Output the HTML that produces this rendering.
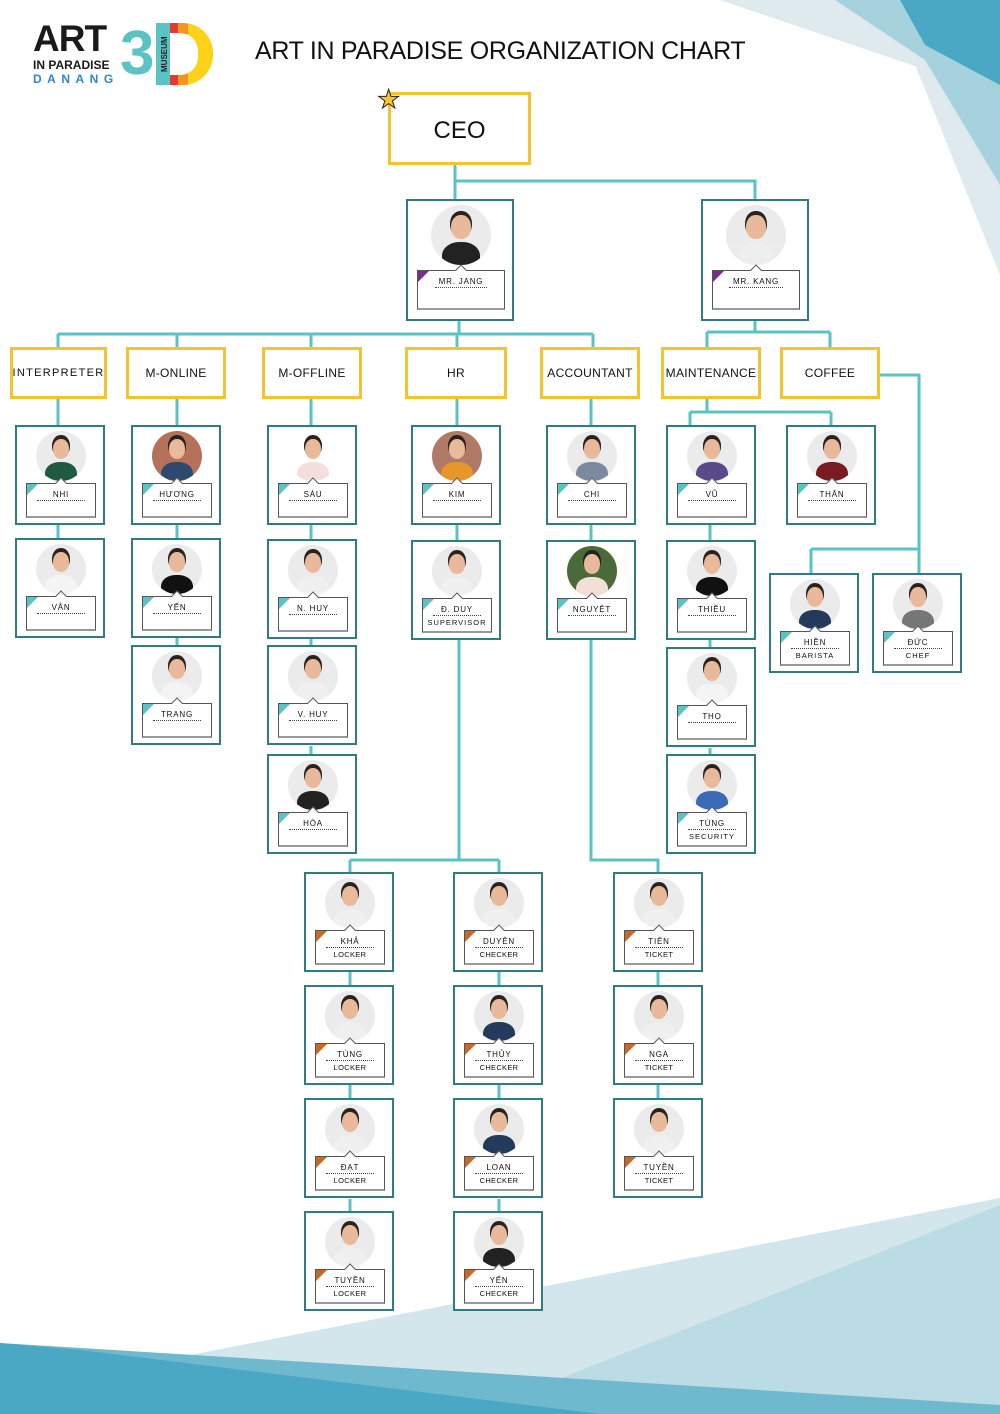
<!DOCTYPE html>
<html><head><meta charset="utf-8">
<style>
*{margin:0;padding:0;box-sizing:border-box}
body{width:1000px;height:1414px;position:relative;overflow:hidden;background:#fff;font-family:"Liberation Sans","DejaVu Sans",sans-serif}
svg.bg{position:absolute;left:0;top:0}
.c{position:absolute;width:90px;height:100px;border:2px solid #2f7d80;background:#fff}
.c.big{width:108px;height:122px}
.p{position:absolute;left:19px;top:4px;width:50px;height:50px;border-radius:50%;background:#ebebeb;overflow:hidden}
.big .p{left:23px;top:4px;width:60px;height:60px}
.p::before{content:"";position:absolute;left:18%;top:62%;width:64%;height:50%;border-radius:45% 45% 0 0;background:var(--s,#233a5a)}
.p::after{content:"";position:absolute;left:34%;top:16%;width:32%;height:40%;border-radius:48%;background:#e8b99a;box-shadow:0 -3px 0 1px #2a2220}
.n{position:absolute;left:9px;top:56px;width:70px;height:35px;border:1px solid #555;border-bottom:2px solid #999;background:#fff;text-align:center}
.big .n{left:9px;top:69px;width:88px;height:40px}
.n::before{content:"";position:absolute;left:0;top:0;border-top:11px solid var(--k,#5bc3c3);border-right:11px solid transparent}
.n::after{content:"";position:absolute;left:50%;top:-5px;margin-left:-4px;width:7px;height:7px;background:#fff;border-left:1px solid #555;border-top:1px solid #555;transform:rotate(45deg)}
.n b{display:inline-block;font-weight:normal;font-size:8px;letter-spacing:.8px;color:#111;margin-top:5px;padding:0 4px 1px;border-bottom:1px dotted #444;min-width:48px;position:relative;z-index:1}
.n s{display:block;text-decoration:none;font-size:7.5px;color:#111;margin-top:1px;letter-spacing:.3px}
.o .n{--k:#c8682a}
.d{position:absolute;top:347px;height:52px;border:3px solid #f5c330;background:#fff;font-size:12px;color:#111;display:flex;align-items:center;justify-content:center;letter-spacing:.3px}
</style></head><body>
<svg class="bg" width="1000" height="1414">
<polygon points="720,0 1000,0 1000,95" fill="#dfeaee"/>
<polygon points="905,40 1000,0 1000,275" fill="#dfeaee"/>
<polygon points="835,0 1000,0 1000,185 925,60" fill="#a6d2de"/>
<polygon points="900,0 1000,0 1000,85 925,45" fill="#4aa8c4"/>
<polygon points="1000,1198 190,1355 0,1414 1000,1414" fill="#d3e6ec"/>
<polygon points="1000,1205 470,1414 1000,1414" fill="#bcdce5"/>
<polygon points="0,1343 1000,1405 1000,1414 0,1414" fill="#6fb9cf"/>
<polygon points="0,1343 80,1350 600,1414 0,1414" fill="#4aa8c4"/>
<g stroke="#5bc3c3" stroke-width="3" fill="none">
<path d="M455,165V199M455,181H755V199"/>
<path d="M459,321V334M58,334H593M58,334V347M177,334V347M311,334V347M457,334V347M593,334V347"/>
<path d="M755,321V332M707,332H830M707,332V347M830,332V347"/>
<path d="M58,399V425M58,525V538M177,399V425M177,525V538M177,638V645M311,399V425M311,525V539M311,639V645M311,746V754M457,399V425M457,525V540M591,399V425M591,525V540"/>
<path d="M707,399V412M690,412H831M690,412V425M831,412V425M710,525V540M710,640V647M710,748V754"/>
<path d="M880,375H919V573M811,549H919M811,549V573"/>
<path d="M459,640V860M350,860H499M350,860V872M499,860V872M350,972V985M350,1085V1098M350,1199V1211M499,972V985M499,1085V1098M499,1199V1211"/>
<path d="M591,640V860H658V872M658,972V985M658,1085V1098"/>
</g>
</svg>

<div style="position:absolute;left:33px;top:20px;font-weight:bold;font-size:37px;letter-spacing:-1px;color:#1a1a1a;line-height:37px">ART</div>
<div style="position:absolute;left:33px;top:58px;font-weight:bold;font-size:12px;color:#1a1a1a">IN PARADISE</div>
<div style="position:absolute;left:33px;top:72px;font-weight:bold;font-size:12px;letter-spacing:5.5px;color:#2f86c8">DANANG</div>
<div style="position:absolute;left:120px;top:22px;font-weight:bold;font-size:62px;line-height:64px;color:#5bc3c3;letter-spacing:-4px">3</div>
<div style="position:absolute;left:156px;top:23px;width:57px;height:62px;border-radius:0 30px 30px 0;background:linear-gradient(90deg,#5bc3c3 0 14px,#e63a2e 14px 22px,#f39324 22px 32px,#ffd21a 32px)"></div>
<div style="position:absolute;left:170px;top:33px;width:28px;height:42px;border-radius:0 18px 18px 0;background:#fff"></div>
<div style="position:absolute;left:160px;top:72px;transform:rotate(-90deg);transform-origin:0 0;font-size:8px;font-weight:bold;color:#222">MUSEUM</div>
<div style="position:absolute;left:255px;top:37px;font-size:25px;color:#111;letter-spacing:-.3px">ART IN PARADISE ORGANIZATION CHART</div>

<div style="position:absolute;left:388px;top:92px;width:143px;height:73px;border:3px solid #f5c330;background:#fff;display:flex;align-items:center;justify-content:center;font-size:24px;color:#111;padding-top:4px">CEO</div>
<div style="position:absolute;left:377px;top:86px;font-size:26px;color:#f5c330;-webkit-text-stroke:1px #222;line-height:26px">★</div>

<div class="c big" style="left:406px;top:199px"><i class="p" style="--s:#222"></i><div class="n" style="--k:#7b2d8e"><b>MR. JANG</b></div></div>
<div class="c big" style="left:701px;top:199px"><i class="p" style="--s:#eee"></i><div class="n" style="--k:#7b2d8e"><b>MR. KANG</b></div></div>

<div class="d" style="left:10px;width:97px;letter-spacing:1.3px;font-size:11px">INTERPRETER</div>
<div class="d" style="left:126px;width:100px">M-ONLINE</div>
<div class="d" style="left:262px;width:100px">M-OFFLINE</div>
<div class="d" style="left:405px;width:102px">HR</div>
<div class="d" style="left:540px;width:100px">ACCOUNTANT</div>
<div class="d" style="left:661px;width:100px">MAINTENANCE</div>
<div class="d" style="left:780px;width:100px">COFFEE</div>

<div class="c" style="left:15px;top:425px"><i class="p" style="--s:#1e5a40"></i><div class="n"><b>NHI</b></div></div>
<div class="c" style="left:15px;top:538px"><i class="p" style="--s:#f4f4f4"></i><div class="n"><b>VÂN</b></div></div>
<div class="c" style="left:131px;top:425px"><i class="p" style="background:#b5715a;--s:#2d4a6e"></i><div class="n"><b>HƯƠNG</b></div></div>
<div class="c" style="left:131px;top:538px"><i class="p" style="--s:#111"></i><div class="n"><b>YẾN</b></div></div>
<div class="c" style="left:131px;top:645px"><i class="p" style="--s:#f3f3f3"></i><div class="n"><b>TRANG</b></div></div>
<div class="c" style="left:267px;top:425px"><i class="p" style="background:#fff;--s:#f4dede"></i><div class="n"><b>SÁU</b></div></div>
<div class="c" style="left:267px;top:539px"><i class="p" style="--s:#f0f0f0"></i><div class="n"><b>N. HUY</b></div></div>
<div class="c" style="left:267px;top:645px"><i class="p" style="--s:#f0f0f0"></i><div class="n"><b>V. HUY</b></div></div>
<div class="c" style="left:267px;top:754px"><i class="p" style="--s:#222"></i><div class="n"><b>HÒA</b></div></div>
<div class="c" style="left:411px;top:425px"><i class="p" style="background:#b07a66;--s:#e6962a"></i><div class="n"><b>KIM</b></div></div>
<div class="c" style="left:411px;top:540px"><i class="p" style="--s:#f0f0f0"></i><div class="n"><b>Đ. DUY</b><s style="letter-spacing:1px">SUPERVISOR</s></div></div>
<div class="c" style="left:546px;top:425px"><i class="p" style="--s:#7c8aa0"></i><div class="n"><b>CHI</b></div></div>
<div class="c" style="left:546px;top:540px"><i class="p" style="background:#4a6a3a;--s:#f2e0d6"></i><div class="n"><b>NGUYỆT</b></div></div>
<div class="c" style="left:666px;top:425px"><i class="p" style="--s:#5a4a8a"></i><div class="n"><b>VŨ</b></div></div>
<div class="c" style="left:666px;top:540px"><i class="p" style="--s:#111"></i><div class="n"><b>THIỀU</b></div></div>
<div class="c" style="left:666px;top:647px"><i class="p" style="--s:#f4f4f4"></i><div class="n"><b>THỌ</b></div></div>
<div class="c" style="left:666px;top:754px"><i class="p" style="--s:#3a6ab8"></i><div class="n"><b>TÙNG</b><s style="letter-spacing:1px">SECURITY</s></div></div>
<div class="c" style="left:786px;top:425px"><i class="p" style="--s:#7a1a22"></i><div class="n"><b>THÂN</b></div></div>
<div class="c" style="left:769px;top:573px"><i class="p" style="--s:#233a5a"></i><div class="n"><b>HIỀN</b><s style="letter-spacing:1px">BARISTA</s></div></div>
<div class="c" style="left:872px;top:573px"><i class="p" style="--s:#777"></i><div class="n"><b>ĐỨC</b><s style="letter-spacing:1px">CHEF</s></div></div>

<div class="c o" style="left:304px;top:872px"><i class="p" style="--s:#f0f0f0"></i><div class="n"><b>KHẢ</b><s>LOCKER</s></div></div>
<div class="c o" style="left:304px;top:985px"><i class="p" style="--s:#f0f0f0"></i><div class="n"><b>TÙNG</b><s>LOCKER</s></div></div>
<div class="c o" style="left:304px;top:1098px"><i class="p" style="--s:#f0f0f0"></i><div class="n"><b>ĐẠT</b><s>LOCKER</s></div></div>
<div class="c o" style="left:304px;top:1211px"><i class="p" style="--s:#f0f0f0"></i><div class="n"><b>TUYỀN</b><s>LOCKER</s></div></div>
<div class="c o" style="left:453px;top:872px"><i class="p" style="--s:#f0f0f0"></i><div class="n"><b>DUYÊN</b><s>CHECKER</s></div></div>
<div class="c o" style="left:453px;top:985px"><i class="p" style="--s:#233a5a"></i><div class="n"><b>THỦY</b><s>CHECKER</s></div></div>
<div class="c o" style="left:453px;top:1098px"><i class="p" style="--s:#233a5a"></i><div class="n"><b>LOAN</b><s>CHECKER</s></div></div>
<div class="c o" style="left:453px;top:1211px"><i class="p" style="--s:#222"></i><div class="n"><b>YẾN</b><s>CHECKER</s></div></div>
<div class="c o" style="left:613px;top:872px"><i class="p" style="--s:#f0f0f0"></i><div class="n"><b>TIÊN</b><s>TICKET</s></div></div>
<div class="c o" style="left:613px;top:985px"><i class="p" style="--s:#f0f0f0"></i><div class="n"><b>NGA</b><s>TICKET</s></div></div>
<div class="c o" style="left:613px;top:1098px"><i class="p" style="--s:#f0f0f0"></i><div class="n"><b>TUYỀN</b><s>TICKET</s></div></div>
</body></html>
